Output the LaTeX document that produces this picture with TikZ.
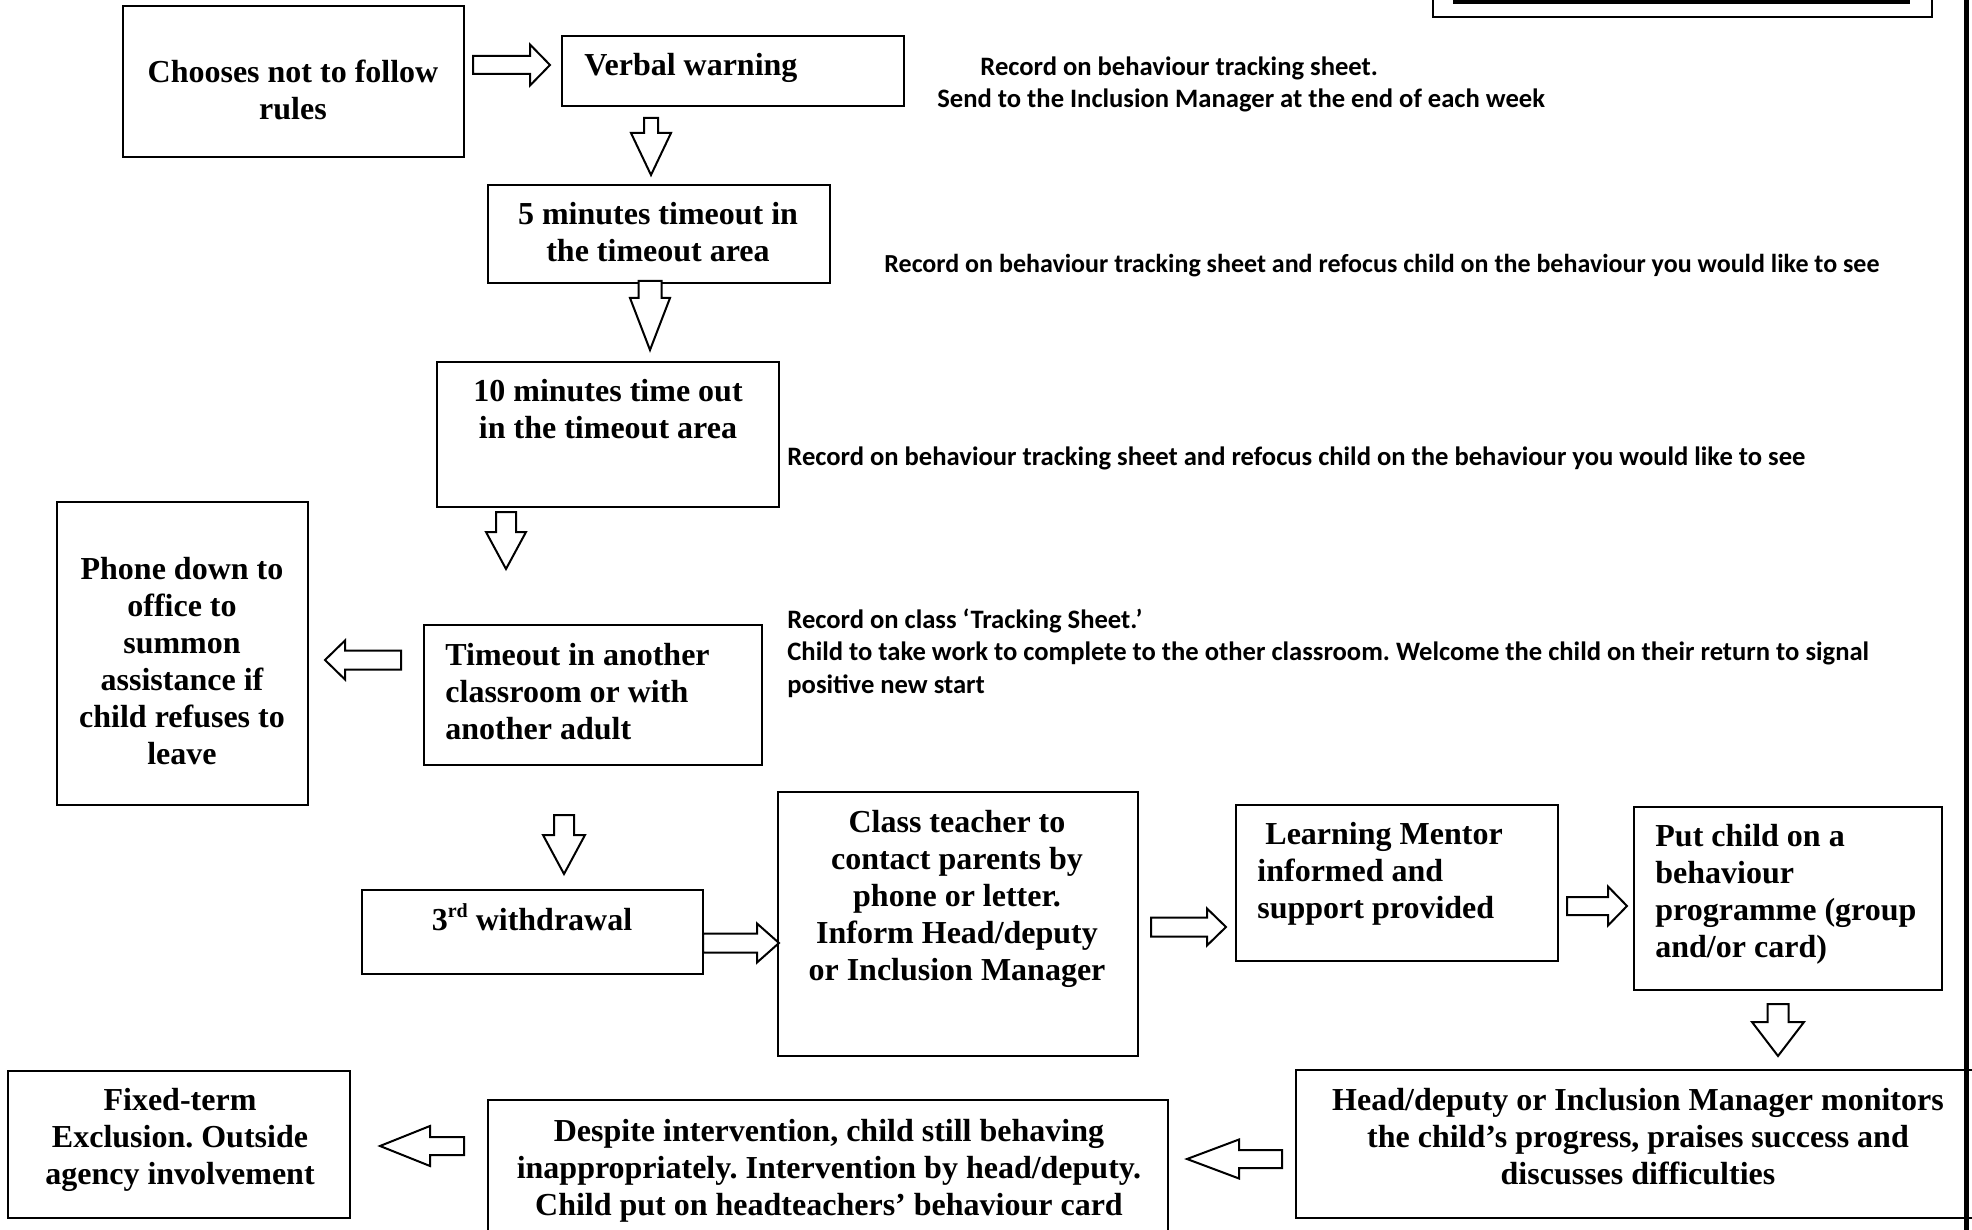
\documentclass[tikz,border=0pt]{standalone}
\usepackage{fontspec}
\setmainfont{Liberation Serif}
\newfontfamily\notefont{Carlito}
\usetikzlibrary{fit}
\frenchspacing
\tikzset{
  box/.style={draw, line width=1.1pt, inner sep=0pt},
  btxt/.style={font=\fontsize{16}{18.5}\selectfont\bfseries, inner sep=0pt, align=center},
  btxtl/.style={font=\fontsize{16}{18.5}\selectfont\bfseries, inner sep=0pt, align=left, anchor=west},
  note/.style={font=\notefont\fontsize{13.3}{16.35}\selectfont\bfseries, inner sep=0pt, anchor=west, align=left},
  barrow/.style={draw, line width=1pt, fill=white, line join=miter},
}
% vertical block arrow: cx, top, headstart, tip, shaft half, head half
\newcommand\myArrowV[6]{\draw[barrow] ({#1-#5},#2) -- ({#1+#5},#2) -- ({#1+#5},#3) -- ({#1+#6},#3) -- (#1,#4) -- ({#1-#6},#3) -- ({#1-#5},#3) -- cycle;}
% horizontal block arrow: cy, tail, headbase, tip, shaft half, head half
\newcommand\myArrowH[6]{\draw[barrow] (#2,{#1-#5}) -- (#3,{#1-#5}) -- (#3,{#1-#6}) -- (#4,#1) -- (#3,{#1+#6}) -- (#3,{#1+#5}) -- (#2,{#1+#5}) -- cycle;}
\begin{document}
\begin{tikzpicture}[x=0.5pt,y=-0.5pt]
\useasboundingbox[fill=white] (0,0) rectangle (1972,1230);

% frame pieces at top right and right edge
\draw[line width=0.8pt] (1433,-20) rectangle (1932,17);
\draw[line width=2pt] (1453,2) -- (1910,2);
\draw[line width=2.6pt] (1966.5,-10) -- (1966.5,1240);

% boxes
\node[box, fit={(123,6) (464,157)}] (choose) {};
\node[box, fit={(562,36) (904,106)}] (verbal) {};
\node[box, fit={(488,185) (830,283)}] (five) {};
\node[box, fit={(437,362) (779,507)}] (ten) {};
\node[box, fit={(57,502) (308,805)}] (phone) {};
\node[box, fit={(424,625) (762,765)}] (other) {};
\node[box, fit={(362,890) (703,974)}] (third) {};
\node[box, fit={(778,792) (1138,1056)}] (teacher) {};
\node[box, fit={(1236,805) (1558,961)}] (mentor) {};
\node[box, fit={(1634,807) (1942,990)}] (programme) {};
\node[box, fit={(1296,1070) (1990,1218)}] (monitor) {};
\node[box, fit={(488,1100) (1168,1250)}] (despite) {};
\node[box, fit={(8,1071) (350,1218)}] (fixed) {};

% box texts
\node[btxt] (choose-t) at (293,89.5) {Chooses not to follow\\rules};
\node[btxtl] (verbal-t) at (584,68) {Verbal warning};
\node[btxt] (five-t) at (658,232) {5 minutes timeout in\\the timeout area};
\node[btxt] (ten-t) at (608,409.5) {10 minutes time out\\in the timeout area};
\node[btxt] (phone-t) at (182,661.5) {Phone down to\\office to\\summon\\assistance if\\child refuses to\\leave};
\node[btxtl] (other-t) at (445,691.5) {Timeout in another\\classroom or with\\another adult};
\node[btxt] (third-t) at (532,917) {3\raisebox{0.42em}{\fontsize{10}{10}\selectfont rd} withdrawal};
\node[btxt] (teacher-t) at (957,898.5) {Class teacher to\\contact parents by\\phone or letter.\\Inform Head/deputy\\or Inclusion Manager};
\node[btxtl] (mentor-t) at (1257,874) {\hspace*{4pt}Learning Mentor\\informed and\\support provided};
\node[btxtl] (programme-t) at (1655,894.5) {Put child on a\\behaviour\\programme (group\\and/or card)};
\node[btxt] (monitor-t) at (1638,1137) {Head/deputy or Inclusion Manager monitors\\the child’s progress, praises success and\\discusses difficulties};
\node[btxt] (despite-t) at (829,1170.5) {Despite intervention, child still behaving\\inappropriately. Intervention by head/deputy.\\Child put on headteachers’ behaviour card};
\node[btxt] (fixed-t) at (180,1140) {Fixed-term\\Exclusion. Outside\\agency involvement};

% side notes
\node[note] (n1) at (980,68.5) {Record on behaviour tracking sheet.};
\node[note] (n2) at (937,100.5) {Send to the Inclusion Manager at the end of each week};
\node[note, font=\notefont\fontsize{13}{16}\selectfont\bfseries] (n3) at (884,265.5) {Record on behaviour tracking sheet and refocus child on the behaviour you would like to see};
\node[note] (n4) at (787,458.5) {Record on behaviour tracking sheet and refocus child on the behaviour you would like to see};
\node[note] (n5) at (787,653) {Record on class ‘Tracking Sheet.’\\Child to take work to complete to the other classroom. Welcome the child on their return to signal\\positive new start};

% block arrows
\myArrowH{65}{473}{530}{550}{9}{20.5}
\myArrowV{651}{118}{133}{175}{7}{20}
\myArrowV{650}{281}{298}{350}{11.5}{20}
\myArrowV{506}{512}{532}{569}{10}{20}
\myArrowH{660}{401}{345}{325}{9.5}{19.5}
\myArrowV{564}{815}{835}{874}{10}{21}
\myArrowH{943}{703}{757}{779}{9.5}{19.5}
\myArrowH{927}{1151}{1207}{1226}{9.5}{18.5}
\myArrowH{906}{1567}{1608}{1627}{9}{19.5}
\myArrowV{1778}{1004}{1022}{1056}{10.5}{26}
\myArrowH{1159}{1282}{1239}{1187}{9}{19.5}
\myArrowH{1146}{464}{430}{380}{9}{20}
\end{tikzpicture}
\end{document}
